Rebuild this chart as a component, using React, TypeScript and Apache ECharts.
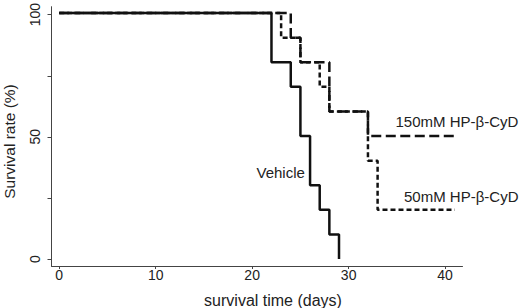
import React, { useEffect, useRef } from "react";
import * as echarts from "echarts";

// survival curves (Kaplan-Meier steps): event times (days) and survival (%)
const vehicleDays = [0, 22, 24, 25, 26, 27, 28, 29];
const vehicleSurv = [100, 80, 70, 50, 30, 20, 10, 0];
const hp150Days = [0, 24, 25, 28, 32, 41];
const hp150Surv = [100, 90, 80, 60, 50, 50];
const hp50Days = [0, 23, 25, 27, 28, 32, 33, 41];
const hp50Surv = [100, 90, 80, 70, 60, 40, 20, 20];

const xTicks = [0, 10, 20, 30, 40];
const yTicks = [0, 25, 50, 75, 100];
const yLabelled = [0, 50, 100];

const seriesNames = ["Vehicle", "150mM HP-β-CyD", "50mM HP-β-CyD"];
const xTitle = "survival time (days)";
const yTitle = "Survival rate (%)";

const FONT = "'Liberation Sans', Arial, sans-serif";

const pairs = (xs: number[], ys: number[]) => xs.map((x, i) => [x, ys[i]]);

export default function App() {
  const ref = useRef<HTMLDivElement>(null);
  useEffect(() => {
    const chart = echarts.init(ref.current!, null, { renderer: "svg" });
    const axisCol = "#444";
    const lineCol = "#111";
    const option: any = {
      animation: false,
      backgroundColor: "#fff",
      textStyle: { fontFamily: FONT },
      grid: [
        { left: 51.5, right: 57.5, top: 6.7, bottom: 42 },
        { left: 59.2, right: 74.9, top: 13.1, bottom: 49 },
      ],
      xAxis: [
        {
          type: "value",
          gridIndex: 0,
          min: -0.8,
          max: 41.8,
          axisLine: { show: true, onZero: false, lineStyle: { color: axisCol, width: 1 } },
          axisTick: { show: false },
          axisLabel: { show: false },
          splitLine: { show: false },
        },
        {
          type: "value",
          gridIndex: 1,
          min: xTicks[0],
          max: xTicks[xTicks.length - 1],
          interval: 10,
          offset: 7,
          axisLine: { show: false, onZero: false },
          axisTick: { show: true, length: 3, lineStyle: { color: axisCol, width: 1 } },
          axisLabel: { show: true, margin: 2, fontSize: 14, color: "#222", fontFamily: FONT },
          splitLine: { show: false },
        },
      ],
      yAxis: [
        {
          type: "value",
          gridIndex: 0,
          min: -2.85,
          max: 102.6,
          axisLine: { show: true, onZero: false, lineStyle: { color: axisCol, width: 1 } },
          axisTick: { show: false },
          axisLabel: { show: false },
          splitLine: { show: false },
        },
        {
          type: "value",
          gridIndex: 1,
          min: yTicks[0],
          max: yTicks[yTicks.length - 1],
          interval: 25,
          offset: 7.7,
          axisLine: { show: false, onZero: false },
          axisTick: { show: true, length: 4, lineStyle: { color: axisCol, width: 1 } },
          axisLabel: {
            show: true,
            rotate: 90,
            margin: 10,
            fontSize: 14,
            color: "#222",
            fontFamily: FONT,
            formatter: (v: number) => (yLabelled.indexOf(v) >= 0 ? String(v) : ""),
          },
          splitLine: { show: false },
        },
      ],
      series: [
        {
          name: seriesNames[0],
          type: "line",
          xAxisIndex: 0,
          yAxisIndex: 0,
          step: "end",
          symbol: "none",
          data: pairs(vehicleDays, vehicleSurv),
          lineStyle: { color: lineCol, width: 2.5, cap: "butt" },
          z: 2,
        },
        {
          name: seriesNames[1],
          type: "line",
          xAxisIndex: 0,
          yAxisIndex: 0,
          step: "end",
          symbol: "none",
          data: pairs(hp150Days, hp150Surv),
          lineStyle: { color: lineCol, width: 2.5, type: [10, 4.5], cap: "butt" },
          z: 3,
        },
        {
          name: seriesNames[2],
          type: "line",
          xAxisIndex: 0,
          yAxisIndex: 0,
          step: "end",
          symbol: "none",
          data: pairs(hp50Days, hp50Surv),
          lineStyle: { color: lineCol, width: 2.5, type: [5, 3], cap: "butt" },
          z: 4,
        },
      ],
      graphic: [
        {
          type: "text",
          x: 256.5,
          y: 172.7,
          style: { text: seriesNames[0], fill: "#222", font: `15px ${FONT}`, textAlign: "left", textVerticalAlign: "middle" },
        },
        {
          type: "text",
          x: 395.5,
          y: 121,
          style: { text: seriesNames[1], fill: "#222", font: `15px ${FONT}`, textAlign: "left", textVerticalAlign: "middle" },
        },
        {
          type: "text",
          x: 404,
          y: 196,
          style: { text: seriesNames[2], fill: "#222", font: `15px ${FONT}`, textAlign: "left", textVerticalAlign: "middle" },
        },
        {
          type: "text",
          x: 273,
          y: 300,
          style: { text: xTitle, fill: "#222", font: `16px ${FONT}`, textAlign: "center", textVerticalAlign: "middle" },
        },
        {
          type: "text",
          x: 9,
          y: 141.5,
          rotation: Math.PI / 2,
          style: { text: yTitle, fill: "#222", font: `15.5px ${FONT}`, textAlign: "center", textVerticalAlign: "middle" },
        },
      ],
    };
    chart.setOption(option);
    return () => chart.dispose();
  }, []);
  return (
    <div
      ref={ref}
      style={{ position: "fixed", left: 0, top: 0, width: 520, height: 308, background: "#fff" }}
    />
  );
}
